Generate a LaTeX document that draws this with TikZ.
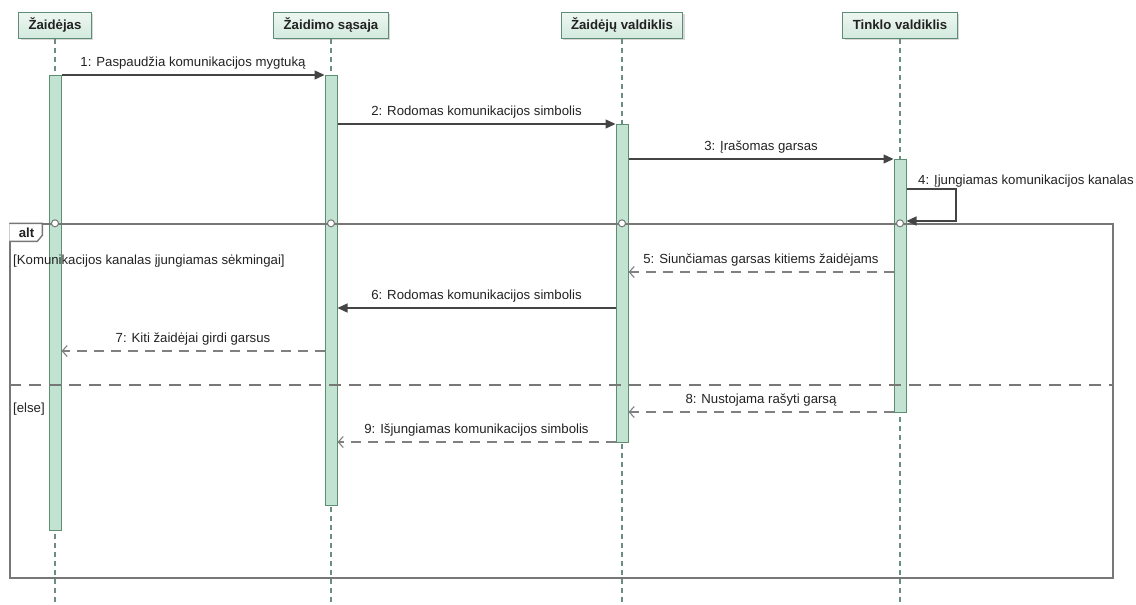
\documentclass[tikz,border=0pt]{standalone}
\usepackage{fontspec}
\setmainfont{Liberation Sans}
\usetikzlibrary{arrows.meta,shadows}

\definecolor{hdrtop}{HTML}{EEF7F2}
\definecolor{hdrbottom}{HTML}{D3EADD}
\definecolor{hdrborder}{HTML}{5F8C76}
\definecolor{barfill}{HTML}{C2E3D1}
\definecolor{barborder}{HTML}{5B8E73}
\definecolor{lifelinecol}{HTML}{6A8F7D}
\definecolor{msgline}{HTML}{444444}
\definecolor{retline}{HTML}{808080}
\definecolor{framecol}{HTML}{777777}
\definecolor{txt}{HTML}{222222}

\begin{document}
\begin{tikzpicture}[x=1pt,y=-1pt,
  font=\fontsize{13.2}{15}\selectfont,
  header/.style={draw=hdrborder, line width=1pt, top color=hdrtop, bottom color=hdrbottom,
    inner xsep=10pt, inner ysep=0pt, minimum height=26pt, text=txt,
    font=\fontsize{13.2}{15}\selectfont\bfseries,
    drop shadow={shadow xshift=2pt, shadow yshift=-2pt, fill=black!30}},
  lifeline/.style={draw=lifelinecol, line width=1.2pt, dash pattern=on 5pt off 4pt},
  activation/.style={draw=barborder, fill=barfill, line width=1pt, minimum width=12pt, inner sep=0pt},
  frame/.style={draw=framecol, line width=1.4pt, inner sep=0pt},
  elsesep/.style={draw=framecol, line width=1.4pt, dash pattern=on 12pt off 8pt},
  joint/.style={circle, draw=framecol, fill=white, line width=1pt, inner sep=0pt, minimum size=7pt},
  call/.style={draw=msgline, line width=1.3pt, -{Triangle[length=10pt,width=9pt]}},
  reply/.style={draw=retline, line width=1.3pt, dash pattern=on 10pt off 7pt,
    -{Straight Barb[length=5pt,width=11pt,line width=1.1pt]}},
  lbl/.style={anchor=base, yshift=8.5pt, inner sep=0pt, text=txt},
  plain/.style={inner sep=0pt, text=txt}
]
\useasboundingbox (0,0) rectangle (1136,605);

% participants
\node[header] (h1) at (55,25)  {Žaidėjas};
\node[header] (h2) at (331,25) {Žaidimo sąsaja};
\node[header] (h3) at (622,25) {Žaidėjų valdiklis};
\node[header] (h4) at (900,25) {Tinklo valdiklis};

% ends of the lifelines
\coordinate (e1) at (55,605);
\coordinate (e2) at (331,605);
\coordinate (e3) at (622,605);
\coordinate (e4) at (900,605);

\draw[lifeline] (h1.south) -- (e1);
\draw[lifeline] (h2.south) -- (e2);
\draw[lifeline] (h3.south) -- (e3);
\draw[lifeline] (h4.south) -- (e4);

% activation bars
\node[activation, minimum height=455pt] (b1) at (55,302.5) {};
\node[activation, minimum height=430pt] (b2) at (331,290) {};
\node[activation, minimum height=318pt] (b3) at (622,283) {};
\node[activation, minimum height=253pt] (b4) at (900,285.5) {};

% combined fragment
\node[frame, minimum width=1103pt, minimum height=354pt] (alt) at (561.5,401) {};
\draw[elsesep] (alt.west |- 0,385) -- (alt.east |- 0,385);
\draw[framecol, line width=1.4pt, fill=white]
  (alt.north west) -- ++(33,0) -- ++(0,12) -- ++(-5,6) -- ++(-28,0);
\node[plain, font=\fontsize{13.2}{15}\selectfont\bfseries, anchor=base] (altlbl) at (26.5,237.5) {alt};
\node[plain, anchor=base west] (g1) at (13,264.5) {[Komunikacijos kanalas įjungiamas sėkmingai]};
\node[plain, anchor=base west] (g2) at (13,412.5) {[else]};

\node[joint] (j1) at (h1 |- alt.north) {};
\node[joint] (j2) at (h2 |- alt.north) {};
\node[joint] (j3) at (h3 |- alt.north) {};
\node[joint] (j4) at (h4 |- alt.north) {};

% messages
\draw[call] (b1.east |- 0,75) -- node[lbl] {1: Paspaudžia komunikacijos mygtuką} (b2.west |- 0,75);
\draw[call] (b2.east |- 0,124) -- node[lbl] {2: Rodomas komunikacijos simbolis} (b3.west |- 0,124);
\draw[call] (b3.east |- 0,159) -- node[lbl] {3: Įrašomas garsas} (b4.west |- 0,159);

\coordinate (s1) at (956,189);
\coordinate (s2) at (956,221);
\draw[call] (b4.east |- s1) -- (s1) -- (s2) -- (b4.east |- s2);
\node[plain, anchor=base west] (l4) at (918,184) {4: Įjungiamas komunikacijos kanalas};

\draw[reply] (b4.west |- 0,272) -- node[lbl] {5: Siunčiamas garsas kitiems žaidėjams} (b3.east |- 0,272);
\draw[call] (b3.west |- 0,308) -- node[lbl] {6: Rodomas komunikacijos simbolis} (b2.east |- 0,308);
\draw[reply] (b2.west |- 0,351) -- node[lbl] {7: Kiti žaidėjai girdi garsus} (b1.east |- 0,351);
\draw[reply] (b4.west |- 0,412) -- node[lbl] {8: Nustojama rašyti garsą} (b3.east |- 0,412);
\draw[reply] (b3.west |- 0,442) -- node[lbl] {9: Išjungiamas komunikacijos simbolis} (b2.east |- 0,442);
\end{tikzpicture}
\end{document}
